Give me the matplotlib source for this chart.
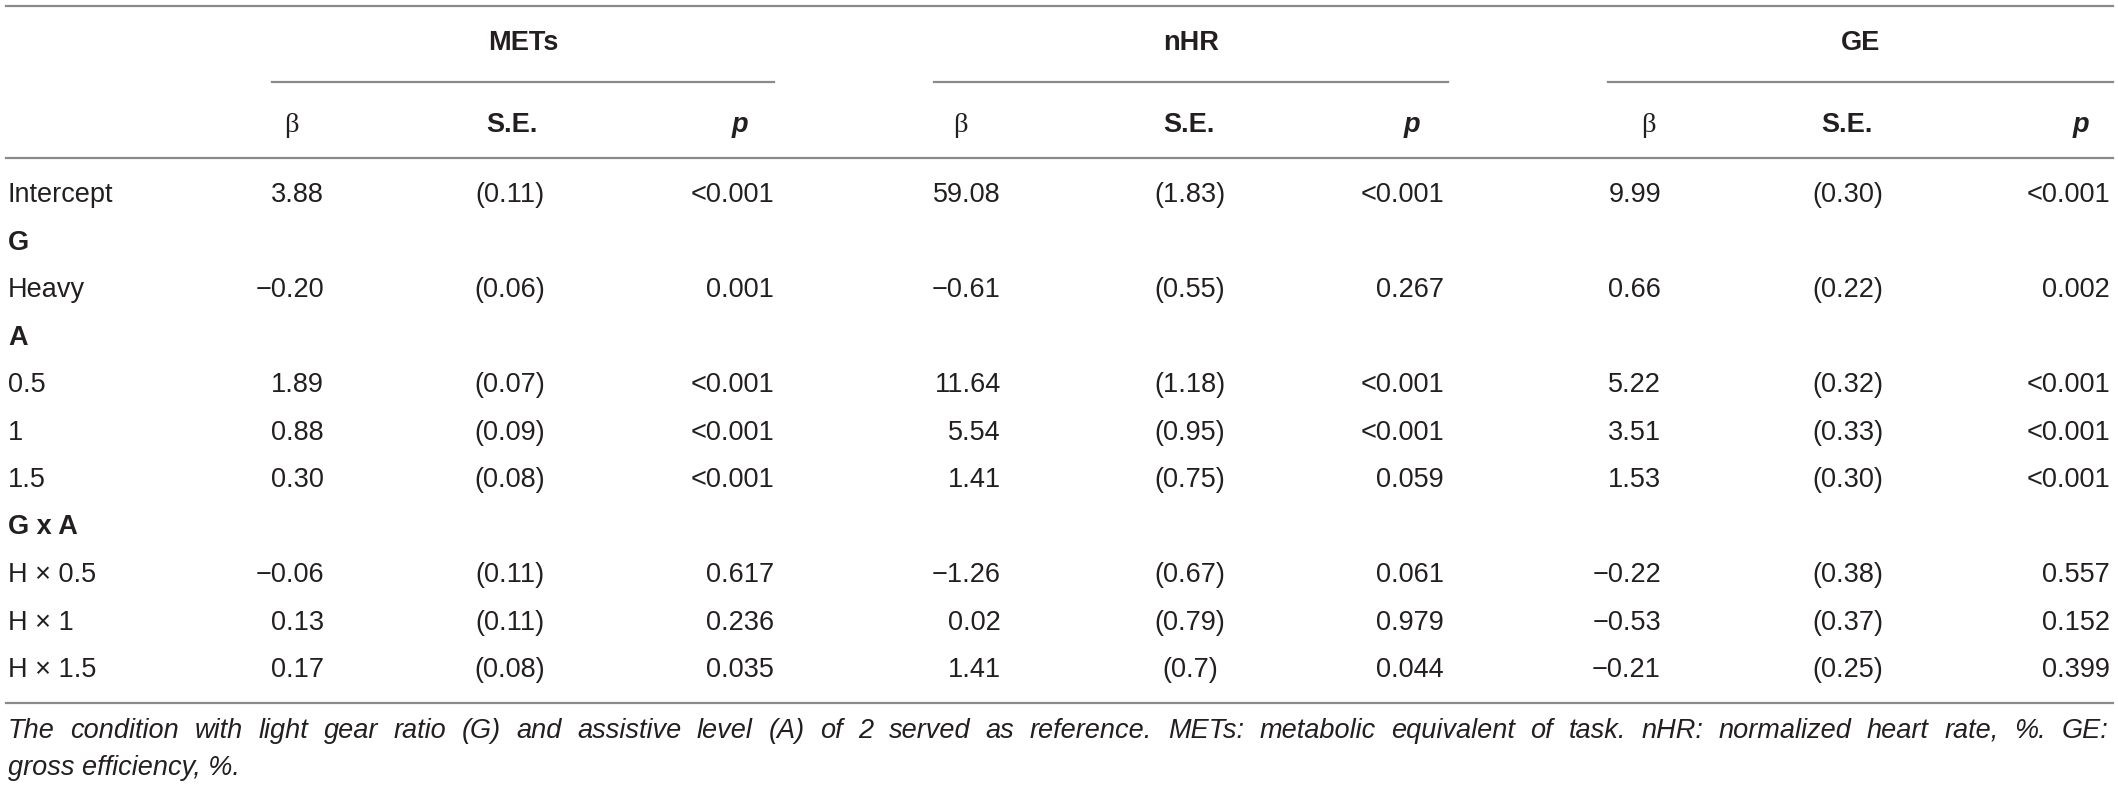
import matplotlib
matplotlib.use("Agg")
import matplotlib.pyplot as plt

# table content
groups = ["METs", "nHR", "GE"]
sub_heads = ["β", "S.E.", "p"]
row_labels = ["Intercept", "G", "Heavy", "A", "0.5", "1", "1.5",
              "G x A", "H \u00d7 0.5", "H \u00d7 1", "H \u00d7 1.5"]
is_section = [False, True, False, True, False, False, False,
              True, False, False, False]

mets_b = ["3.88", "", "\u22120.20", "", "1.89", "0.88", "0.30", "", "\u22120.06", "0.13", "0.17"]
mets_se = ["(0.11)", "", "(0.06)", "", "(0.07)", "(0.09)", "(0.08)", "", "(0.11)", "(0.11)", "(0.08)"]
mets_p = ["<0.001", "", "0.001", "", "<0.001", "<0.001", "<0.001", "", "0.617", "0.236", "0.035"]

nhr_b = ["59.08", "", "\u22120.61", "", "11.64", "5.54", "1.41", "", "\u22121.26", "0.02", "1.41"]
nhr_se = ["(1.83)", "", "(0.55)", "", "(1.18)", "(0.95)", "(0.75)", "", "(0.67)", "(0.79)", "(0.7)"]
nhr_p = ["<0.001", "", "0.267", "", "<0.001", "<0.001", "0.059", "", "0.061", "0.979", "0.044"]

ge_b = ["9.99", "", "0.66", "", "5.22", "3.51", "1.53", "", "\u22120.22", "\u22120.53", "\u22120.21"]
ge_se = ["(0.30)", "", "(0.22)", "", "(0.32)", "(0.33)", "(0.30)", "", "(0.38)", "(0.37)", "(0.25)"]
ge_p = ["<0.001", "", "0.002", "", "<0.001", "<0.001", "<0.001", "", "0.557", "0.152", "0.399"]

footnote_1 = ("The condition with light gear ratio (G) and assistive level (A) of 2 served as "
              "reference. METs: metabolic equivalent of task. nHR: normalized heart rate, %. GE:")
footnote_2 = "gross efficiency, %."

W, H = 2118, 789
fig = plt.figure(figsize=(W / 100, H / 100), dpi=100)
ax = fig.add_axes([0, 0, 1, 1])
ax.set_xlim(0, W)
ax.set_ylim(H, 0)
ax.axis("off")

txt = "#231f20"
rule = "#8a8a8a"
fs = 19.5
sans = "Liberation Sans"

# column anchors: (beta right edge, se centre, p right edge), group span
cols = [(324, 510, 774), (1001, 1190, 1444), (1661, 1848, 2110)]
head_x = [(291, 512, 740), (960, 1189, 1412), (1648, 1847, 2081)]
spans = [(272, 774), (934, 1448), (1608, 2113)]
data = [(mets_b, mets_se, mets_p), (nhr_b, nhr_se, nhr_p), (ge_b, ge_se, ge_p)]

# rules
for yy in (5.5, 158, 703):
    ax.plot([6, 2113], [yy, yy], color=rule, lw=1.6)
for (x0, x1) in spans:
    ax.plot([x0, x1], [82, 82], color=rule, lw=1.6)

# headers
for g, (x0, x1), hx in zip(groups, spans, head_x):
    ax.text((x0 + x1) / 2, 43, g, ha="center", va="center", fontsize=fs,
            fontweight="bold", family=sans, color=txt)
    ax.text(hx[0], 125, sub_heads[0], ha="center", va="center", fontsize=fs + 1,
            family="Liberation Serif", color=txt)
    ax.text(hx[1], 125, sub_heads[1], ha="center", va="center", fontsize=fs,
            fontweight="bold", family=sans, color=txt)
    ax.text(hx[2], 125, sub_heads[2], ha="center", va="center", fontsize=fs,
            fontweight="bold", style="italic", family=sans, color=txt)

# body rows
row_y0, row_dy = 195, 47.5
for i, lab in enumerate(row_labels):
    y = row_y0 + i * row_dy
    ax.text(8, y, lab, ha="left", va="center", fontsize=fs, family=sans, color=txt,
            fontweight="bold" if is_section[i] else "normal")
    for (bx, sx, px), (b, se, p) in zip(cols, data):
        if b[i]:
            ax.text(bx, y, b[i], ha="right", va="center", fontsize=fs, family=sans, color=txt)
            ax.text(sx, y, se[i], ha="center", va="center", fontsize=fs, family=sans, color=txt)
            ax.text(px, y, p[i], ha="right", va="center", fontsize=fs, family=sans, color=txt)

# footnote, first line justified to table width
words = footnote_1.split(" ")
fig.canvas.draw()
r = fig.canvas.get_renderer()
arts, widths = [], []
for w in words:
    t = ax.text(0, 731, w, ha="left", va="center", fontsize=fs, style="italic",
                family=sans, color=txt)
    bb = t.get_window_extent(renderer=r)
    widths.append(bb.width)
    arts.append(t)
left, right = 8, 2108
gap = (right - left - sum(widths)) / (len(words) - 1)
x = left
for t, wd in zip(arts, widths):
    t.set_x(x)
    x += wd + gap
ax.text(8, 768, footnote_2, ha="left", va="center", fontsize=fs, style="italic",
        family=sans, color=txt)

fig.savefig("out.png", dpi=100)
